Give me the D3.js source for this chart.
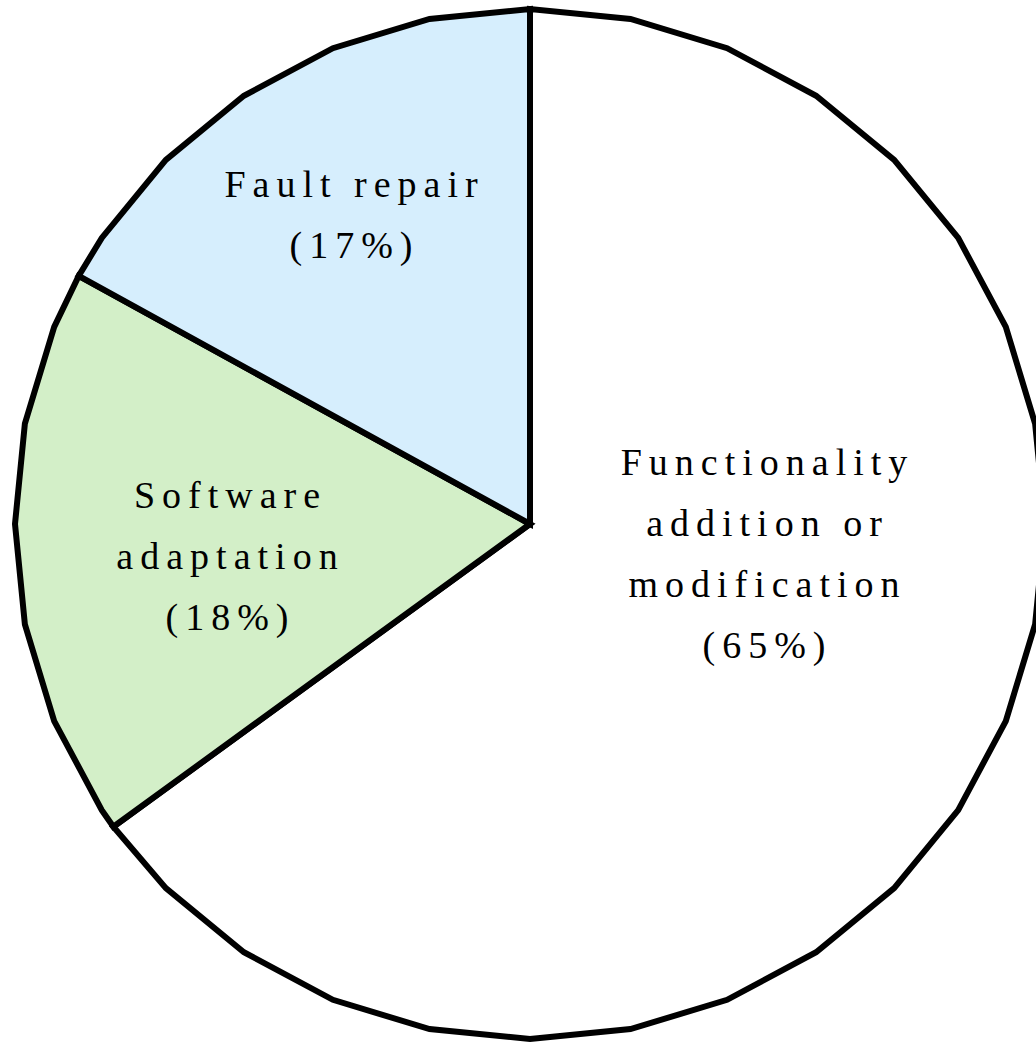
<!DOCTYPE html>
<html>
<head>
<meta charset="utf-8">
<script src="https://cdn.jsdelivr.net/npm/d3@7"></script>
<style>
  html, body { margin: 0; padding: 0; background: #fff; }
  svg { display: block; }
</style>
</head>
<body>
<svg id="chart" width="1036" height="1045"></svg>
<script>
// ---- data ----
const categories = ["Functionality addition or modification", "Software adaptation", "Fault repair"];
const values = [65, 18, 17];
const labelLines = [
  ["Functionality", "addition or", "modification", "(65%)"],
  ["Software", "adaptation", "(18%)"],
  ["Fault repair", "(17%)"]
];
const colors = ["#ffffff", "#d3efc8", "#d6eefd"];

// ---- layout ----
const W = 1036, H = 1045;
const cx = 530, cy = 524, R = 515;
const segments = 32;               // polygonal arc approximation
const labelAnchors = [[764, 475], [227, 508], [351, 197]];
const fontSize = 38, letterSpacing = 7, lineHeight = 61;

const svg = d3.select("#chart");
const g = svg.append("g").attr("transform", `translate(${cx},${cy})`);

const pie = d3.pie().sort(null).value(d => d.value).startAngle(0).endAngle(2 * Math.PI);
const data = pie(categories.map((c, i) => ({ name: c, value: values[i], i })));

const step = 2 * Math.PI / segments;
const pt = a => [R * Math.sin(a), -R * Math.cos(a)];

function slicePath(d) {
  const p = d3.path();
  p.moveTo(0, 0);
  let [x, y] = pt(d.startAngle);
  p.lineTo(x, y);
  let k = Math.floor(d.startAngle / step + 1e-6) + 1;
  while (k * step < d.endAngle - 1e-6) {
    [x, y] = pt(k * step);
    p.lineTo(x, y);
    k++;
  }
  [x, y] = pt(d.endAngle);
  p.lineTo(x, y);
  p.closePath();
  return p.toString();
}

g.selectAll("path.slice")
  .data(data)
  .join("path")
  .attr("class", "slice")
  .attr("d", slicePath)
  .attr("fill", d => colors[d.data.i])
  .attr("stroke", "#000")
  .attr("stroke-width", 6)
  .attr("stroke-linejoin", "miter");

const labels = svg.selectAll("text.label")
  .data(data)
  .join("text")
  .attr("class", "label")
  .attr("font-family", "'Liberation Serif', 'Times New Roman', serif")
  .attr("font-size", fontSize)
  .attr("letter-spacing", letterSpacing)
  .attr("text-anchor", "middle")
  .attr("fill", "#000");

labels.each(function (d) {
  const [lx, ly] = labelAnchors[d.data.i];
  d3.select(this).selectAll("tspan")
    .data(labelLines[d.data.i])
    .join("tspan")
    .attr("x", lx + letterSpacing / 2)
    .attr("y", (t, j) => ly + j * lineHeight)
    .text(t => t);
});
</script>
</body>
</html>
